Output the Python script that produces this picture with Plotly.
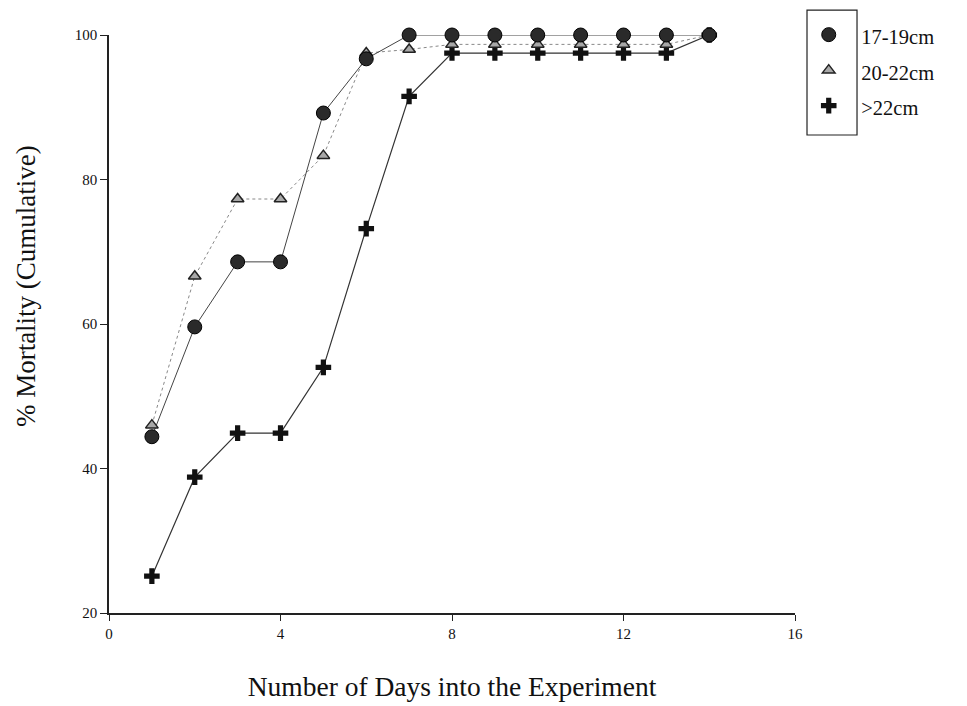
import plotly.graph_objects as go

days = [1, 2, 3, 4, 5, 6, 7, 8, 9, 10, 11, 12, 13, 14]
mort_17_19 = [44.4, 59.6, 68.6, 68.6, 89.2, 96.7, 100, 100, 100, 100, 100, 100, 100, 100]
mort_20_22 = [46.0, 66.6, 77.3, 77.3, 83.3, 97.5, 98.0, 98.7, 98.7, 98.7, 98.7, 98.7, 98.7, 100]
mort_gt22 = [25.1, 38.8, 44.9, 44.9, 54.0, 73.2, 91.5, 97.5, 97.5, 97.5, 97.5, 97.5, 97.5, 100]
series_names = ["17-19cm", "20-22cm", ">22cm"]
x_ticks = [0, 4, 8, 12, 16]
y_ticks = [20, 40, 60, 80, 100]

SERIF = "Liberation Serif"

def lab(s):
    return '\u00a0\u00a0<span style="font-size:20.5px">' + s + '</span>'

styles = [
    dict(data=mort_17_19, name=series_names[0],
         line=dict(color="#444444", width=1),
         marker=dict(symbol="circle", size=14, color="#2a2a2a",
                     line=dict(color="#000000", width=1))),
    dict(data=mort_20_22, name=series_names[1],
         line=dict(color="#888888", width=1, dash="dot"),
         marker=dict(symbol="triangle-up", size=11, color="#a8a8a8",
                     line=dict(color="#222222", width=1.5))),
    dict(data=mort_gt22, name=series_names[2],
         line=dict(color="#333333", width=1.2),
         marker=dict(symbol="cross", size=13, color="#111111", line=dict(width=0))),
]

fig = go.Figure()
# lines (drawn first, behind markers)
for st in reversed(styles):
    fig.add_trace(go.Scatter(x=days, y=st["data"], mode="lines", line=st["line"],
                             showlegend=False, hoverinfo="skip", cliponaxis=False))
# markers (with legend entries)
for i, st in enumerate(reversed(styles)):
    fig.add_trace(go.Scatter(x=days, y=st["data"], mode="markers", name=lab(st["name"]),
                             marker=st["marker"], cliponaxis=False,
                             legendrank=3 - i))

fig.add_shape(type="rect", xref="paper", yref="paper",
              x0=1.0175, x1=1.0904, y0=0.827, y1=1.043,
              line=dict(color="#222222", width=1.2), fillcolor="rgba(0,0,0,0)")

# y-axis title (placed as in the original, slightly above centre)
fig.add_annotation(text="% Mortality (Cumulative)", xref="paper", yref="paper",
                   x=-0.12, y=0.565, xanchor="center", yanchor="middle",
                   textangle=-90, showarrow=False,
                   font=dict(family=SERIF, size=27, color="#111111"))

fig.update_layout(
    width=967, height=706,
    margin=dict(l=101, r=180, t=27, b=101, autoexpand=False),
    paper_bgcolor="white", plot_bgcolor="white",
    font=dict(family=SERIF, color="#111111"),
    showlegend=True,
    legend=dict(x=1.02, y=1.04, xanchor="left", yanchor="top",
                bgcolor="rgba(0,0,0,0)", borderwidth=0,
                font=dict(family=SERIF, size=25, color="#111111"),
                itemwidth=30, traceorder="normal"),
    xaxis=dict(range=[0, 16], tickvals=x_ticks, ticktext=[str(v) for v in x_ticks],
               showgrid=False, zeroline=False, showline=True, linecolor="#222222",
               linewidth=1.5, ticks="outside", ticklen=6, tickcolor="#222222",
               tickfont=dict(family=SERIF, size=15, color="#111111"),
               title=dict(text="Number of Days into the Experiment",
                          font=dict(family=SERIF, size=27.5, color="#111111"),
                          standoff=36)),
    yaxis=dict(range=[20, 100], tickvals=y_ticks, ticktext=[str(v) for v in y_ticks],
               showgrid=False, zeroline=False, showline=True, linecolor="#222222",
               linewidth=1.5, ticks="outside", ticklen=7, tickcolor="#222222",
               tickfont=dict(family=SERIF, size=15, color="#111111")),
)

fig.write_html("out.html")
